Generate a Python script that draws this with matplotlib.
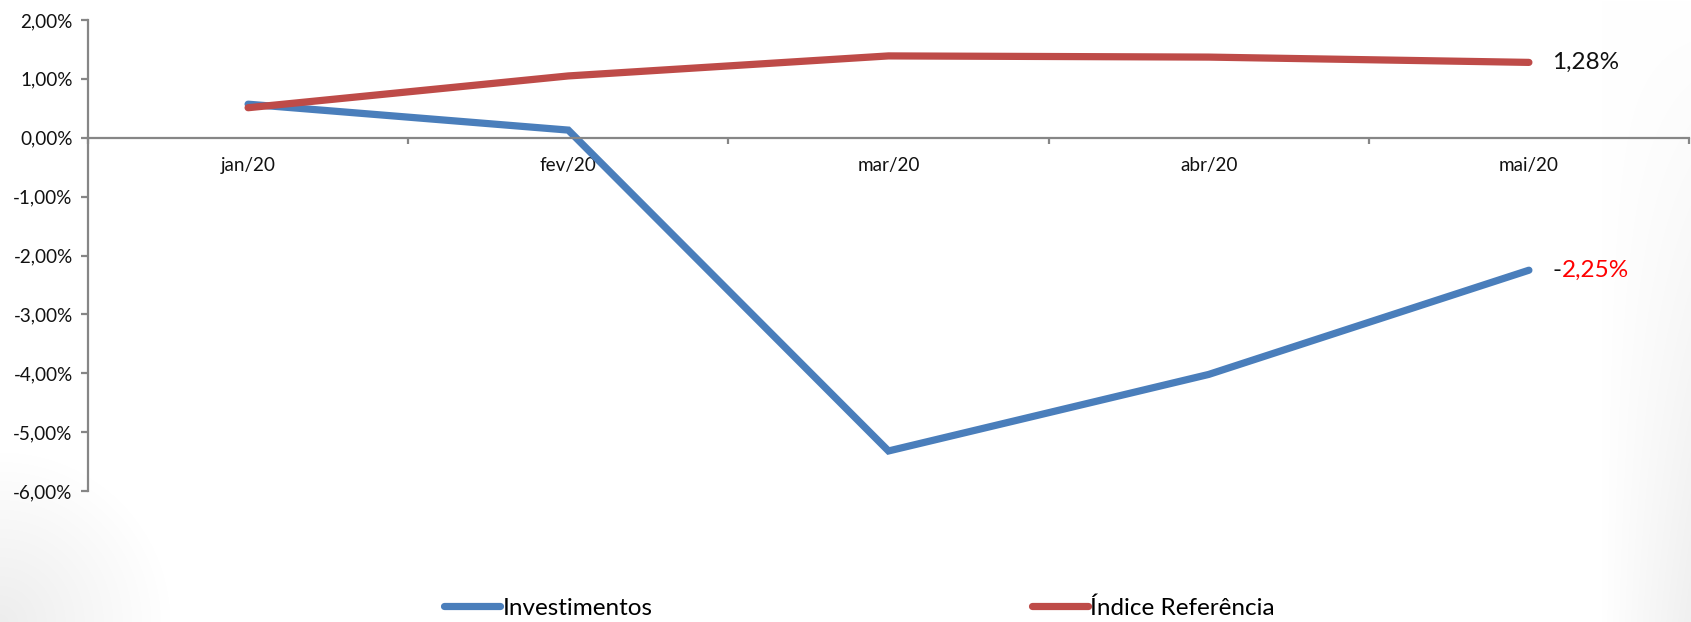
import matplotlib
matplotlib.use('Agg')
import matplotlib.pyplot as plt
from matplotlib.lines import Line2D
import numpy as np

plt.rcParams['font.family'] = ['Lato', 'DejaVu Sans']

meses = ['jan/20', 'fev/20', 'mar/20', 'abr/20', 'mai/20']
investimentos = [0.57, 0.13, -5.32, -4.02, -2.25]
indice_ref = [0.51, 1.05, 1.39, 1.37, 1.28]
y_ticks = [2, 1, 0, -1, -2, -3, -4, -5, -6]

azul = '#4A7EBB'
vermelho = '#BE4B48'
cinza = '#868686'


def pct(v):
    return f'{v:.2f}%'.replace('.', ',')


W, H = 1691, 622
fig = plt.figure(figsize=(W / 100, H / 100), dpi=100)

# fundo com leve sombreado nos cantos
bg = fig.add_axes([0, 0, 1, 1], zorder=-1)
bg.axis('off')
xx, yy = np.meshgrid(np.arange(W), np.arange(H))
d_canto = np.hypot(xx, H - yy)
sombra = np.clip(1 - d_canto / 170, 0, 1) * 0.07
sombra += np.clip(1 - (W - xx) / 90, 0, 1) * 0.06 * (yy / H)
bg.imshow(np.dstack([1 - sombra] * 3), aspect='auto', extent=(0, 1, 0, 1))

ax = fig.add_axes([88 / W, 1 - 491 / H, (1689 - 88) / W, (491 - 20) / H])
ax.patch.set_alpha(0)

x = np.arange(len(meses))
ax.plot(x, investimentos, color=azul, lw=5.2, solid_capstyle='round', solid_joinstyle='miter')
ax.plot(x, indice_ref, color=vermelho, lw=5.2, solid_capstyle='round', solid_joinstyle='miter')

ax.set_xlim(-0.5, len(meses) - 0.5)
ax.set_ylim(-6, 2)

for s in ['top', 'right']:
    ax.spines[s].set_visible(False)
ax.spines['bottom'].set_position(('data', 0))
for s in ['left', 'bottom']:
    ax.spines[s].set_color(cinza)
    ax.spines[s].set_linewidth(1.6)

ax.set_yticks(y_ticks)
ax.set_yticklabels([pct(v) for v in y_ticks], fontsize=13.6, color='#111111')
ax.tick_params(axis='y', direction='out', length=5, width=1.6, color=cinza, pad=6)

ax.set_xticks(np.arange(-0.5, len(meses)), labels=[''] * (len(meses) + 1))
ax.tick_params(axis='x', which='major', direction='out', length=4, width=1.6, color=cinza)
ax.set_xticks(x, minor=True)
ax.set_xticklabels(meses, minor=True, fontsize=13.6, color='#111111')
ax.tick_params(axis='x', which='minor', length=0, pad=14)

# rótulos finais
ax.annotate(pct(indice_ref[-1]), xy=(x[-1], indice_ref[-1]), xytext=(17, 0),
            textcoords='offset points', va='center', ha='left', fontsize=17.5, color='#111111')
t = ax.annotate('-', xy=(x[-1], investimentos[-1]), xytext=(17, 0),
                textcoords='offset points', va='center', ha='left', fontsize=17.5, color='#111111')
ax.annotate(pct(abs(investimentos[-1])), xy=(1, 0.5), xycoords=t, va='center', ha='left',
            fontsize=17.5, color='#FF0000')

# legenda
for cor, nome, xpos in [(azul, 'Investimentos', 444), (vermelho, 'Índice Referência', 1032)]:
    fig.legend(handles=[Line2D([], [], color=cor, lw=5.2, solid_capstyle='round')], labels=[nome],
               loc='center left', bbox_to_anchor=(xpos / W, 1 - 608 / H), frameon=False,
               fontsize=17.5, handlelength=2.3, handletextpad=0.1, borderpad=0, borderaxespad=0)

fig.savefig('out.png', dpi=100)
